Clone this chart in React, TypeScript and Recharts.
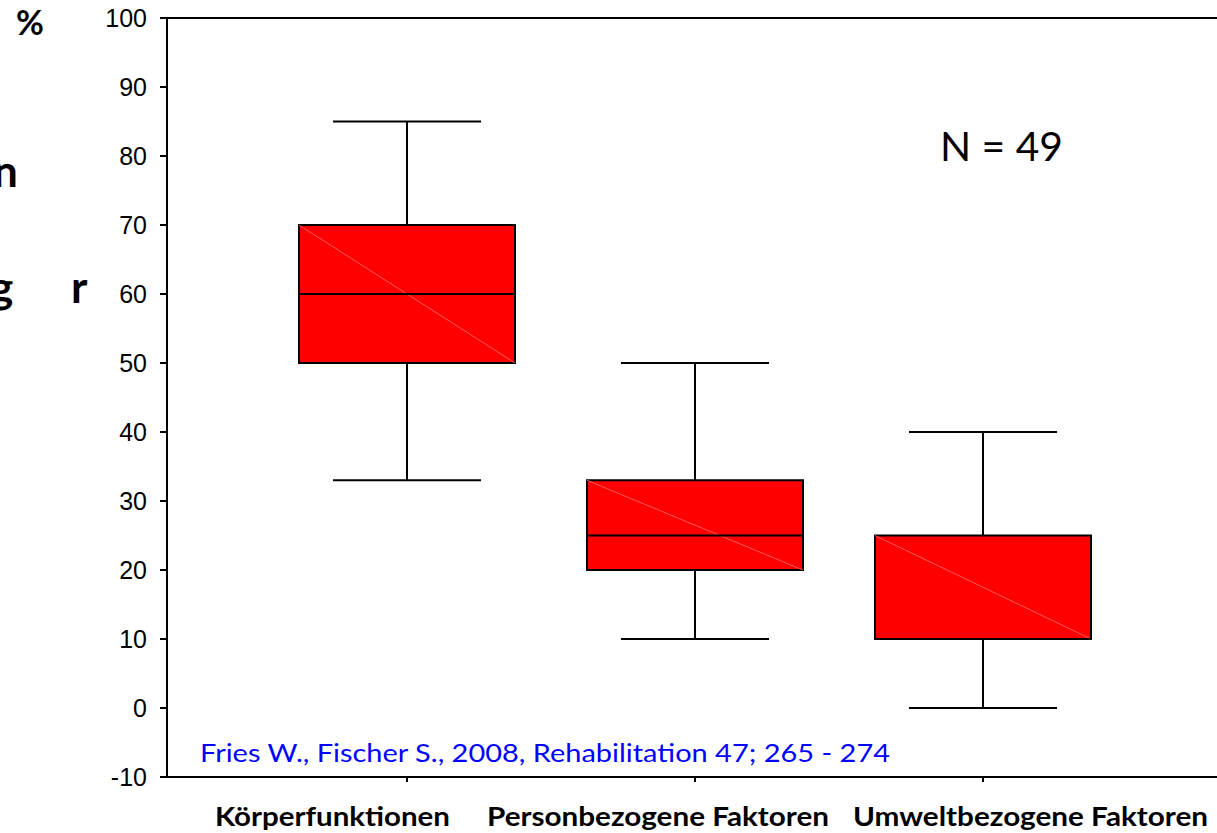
import React from 'react';
import { ComposedChart, XAxis, YAxis, ReferenceArea, ReferenceLine, Scatter } from 'recharts';

// box plot values per category (percent)
const categories = ['Körperfunktionen', 'Personbezogene Faktoren', 'Umweltbezogene Faktoren'];
const positions = [1, 2, 3];
const mins = [33, 10, 0];
const q1s = [50, 20, 10];
const medians = [60, 25, 10];
const q3s = [70, 33, 25];
const maxs = [85, 50, 40];
const yTicks = [-10, 0, 10, 20, 30, 40, 50, 60, 70, 80, 90, 100];
const sampleLabel = 'N = 49';
const citation = 'Fries W., Fischer S., 2008, Rehabilitation 47; 265 - 274';

const boxData = positions.map((p, i) => ({
    pos: p,
    name: categories[i],
    min: mins[i],
    q1: q1s[i],
    median: medians[i],
    q3: q3s[i],
    max: maxs[i],
}));

const W = 1217;
const H = 833;
const BOX_HALF = 0.375;
const CAP_HALF = 0.257;

const NoTick = () => <g />;

const App: React.FC = () => {
    return (
        <div style={{ position: 'absolute', left: 0, top: 0, width: W, height: H, background: '#fff' }}>
            <ComposedChart
                width={W}
                height={H}
                data={boxData}
                margin={{ top: 18, right: 0, bottom: 0, left: 0 }}
            >
                <XAxis
                    dataKey="pos"
                    type="number"
                    domain={[0.1667, 3.8125]}
                    ticks={positions}
                    allowDataOverflow
                    height={56}
                    tickSize={5}
                    tick={<NoTick />}
                    axisLine={{ stroke: '#000', strokeWidth: 2 }}
                    tickLine={{ stroke: '#000', strokeWidth: 2 }}
                />
                <YAxis
                    type="number"
                    domain={[-10, 100]}
                    ticks={yTicks}
                    interval={0}
                    allowDataOverflow
                    width={167}
                    tickSize={7}
                    tickMargin={13}
                    axisLine={{ stroke: '#000', strokeWidth: 2 }}
                    tickLine={{ stroke: '#000', strokeWidth: 2 }}
                    tick={{ fill: '#000', fontSize: 25, fontFamily: 'Liberation Sans, Arial, sans-serif' }}
                />
                <ReferenceLine y={100} stroke="#000" strokeWidth={2} />

                {boxData.map(d => (
                    <ReferenceArea
                        key={'box' + d.pos}
                        x1={d.pos - BOX_HALF}
                        x2={d.pos + BOX_HALF}
                        y1={d.q1}
                        y2={d.q3}
                        fill="#ff0000"
                        fillOpacity={1}
                        stroke="#000"
                        strokeWidth={2}
                    />
                ))}
                {boxData.map(d => (
                    <ReferenceLine
                        key={'diag' + d.pos}
                        segment={[{ x: d.pos - BOX_HALF, y: d.q3 }, { x: d.pos + BOX_HALF, y: d.q1 }]}
                        stroke="#ff7070"
                        strokeWidth={0.8}
                    />
                ))}
                {boxData.map(d => (
                    <ReferenceLine
                        key={'med' + d.pos}
                        segment={[{ x: d.pos - BOX_HALF, y: d.median }, { x: d.pos + BOX_HALF, y: d.median }]}
                        stroke="#000"
                        strokeWidth={2}
                    />
                ))}
                {boxData.map(d => (
                    <ReferenceLine
                        key={'wu' + d.pos}
                        segment={[{ x: d.pos, y: d.q3 }, { x: d.pos, y: d.max }]}
                        stroke="#000"
                        strokeWidth={2}
                    />
                ))}
                {boxData.map(d => (
                    <ReferenceLine
                        key={'wl' + d.pos}
                        segment={[{ x: d.pos, y: d.min }, { x: d.pos, y: d.q1 }]}
                        stroke="#000"
                        strokeWidth={2}
                    />
                ))}
                {boxData.map(d => (
                    <ReferenceLine
                        key={'cu' + d.pos}
                        segment={[{ x: d.pos - CAP_HALF, y: d.max }, { x: d.pos + CAP_HALF, y: d.max }]}
                        stroke="#000"
                        strokeWidth={2}
                    />
                ))}
                {boxData.map(d => (
                    <ReferenceLine
                        key={'cl' + d.pos}
                        segment={[{ x: d.pos - CAP_HALF, y: d.min }, { x: d.pos + CAP_HALF, y: d.min }]}
                        stroke="#000"
                        strokeWidth={2}
                    />
                ))}
                <Scatter dataKey="median" shape={() => <g />} isAnimationActive={false} />
            </ComposedChart>

            {/* text overlay: remnants of the cut-off axis title, sample size, source, category names */}
            <svg width={W} height={H} style={{ position: 'absolute', left: 0, top: 0, pointerEvents: 'none' }}>
                <g fontFamily="Lato, 'Open Sans', sans-serif" fontWeight="bold" fill="#000">
                    <text x={16} y={35} fontSize={34}>%</text>
                    <text x={-7} y={187} fontSize={44}>n</text>
                    <text x={-10} y={303} fontSize={44}>g</text>
                    <text x={71} y={303} fontSize={44}>r</text>
                </g>
                <text x={940} y={161} fontFamily="Lato, 'Open Sans', sans-serif" fontSize={40} fill="#000" textLength={123} lengthAdjust="spacingAndGlyphs">
                    {sampleLabel}
                </text>
                <text x={200} y={762} fontFamily="Lato, 'Open Sans', sans-serif" fontSize={25} fill="#0000ff" textLength={690} lengthAdjust="spacingAndGlyphs">
                    {citation}
                </text>
                <g fontFamily="Lato, 'Open Sans', sans-serif" fontWeight="bold" fontSize={26} fill="#000">
                    <text x={215} y={826} textLength={235} lengthAdjust="spacingAndGlyphs">{categories[0]}</text>
                    <text x={487} y={826} textLength={342} lengthAdjust="spacingAndGlyphs">{categories[1]}</text>
                    <text x={853} y={826} textLength={355} lengthAdjust="spacingAndGlyphs">{categories[2]}</text>
                </g>
            </svg>
        </div>
    );
};

export default App;
